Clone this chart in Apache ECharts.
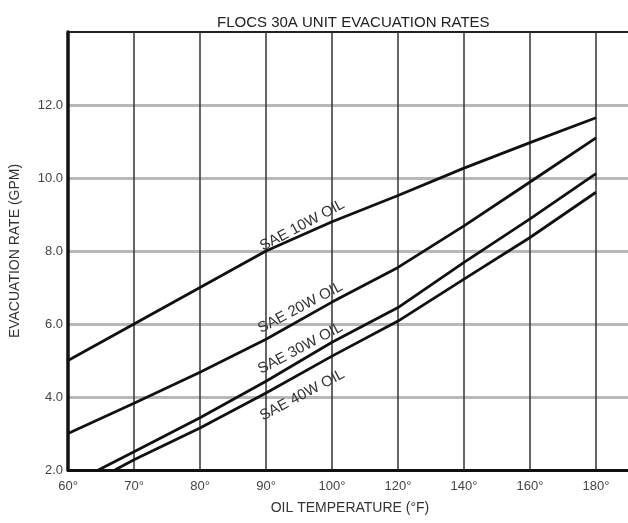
<!DOCTYPE html>
<html>
<head>
<meta charset="utf-8">
<script src="https://cdn.jsdelivr.net/npm/echarts@6/dist/echarts.min.js"></script>
<style>
  html, body { margin: 0; padding: 0; background: #fff; }
  #chart { width: 628px; height: 523px; }
</style>
</head>
<body>
<div id="chart"></div>
<script>
// tick positions on the x axis are evenly spaced, but the step changes at 100°
var xTicks = [60, 70, 80, 90, 100, 120, 140, 160, 180];
var xTickLabels = ['60°', '70°', '80°', '90°', '100°', '120°', '140°', '160°', '180°'];

var temps10 = [60, 70, 80, 90, 100, 120, 140, 160, 180];
var sae10 = [5.0, 6.0, 7.0, 8.0, 8.8, 9.52, 10.27, 10.97, 11.65];
var temps20 = [60, 70, 80, 90, 100, 120, 140, 160, 180];
var sae20 = [3.0, 3.83, 4.68, 5.58, 6.6, 7.55, 8.69, 9.89, 11.1];
var temps30 = [64.6, 70, 80, 90, 100, 120, 140, 160, 180];
var sae30 = [2.0, 2.5, 3.43, 4.43, 5.5, 6.45, 7.69, 8.88, 10.12];
var temps40 = [67.1, 70, 80, 90, 100, 120, 140, 160, 180];
var sae40 = [2.0, 2.28, 3.15, 4.11, 5.12, 6.08, 7.23, 8.37, 9.61];

// label spots [temperature, rate]
var lineNames = ['SAE 10W OIL', 'SAE 20W OIL', 'SAE 30W OIL', 'SAE 40W OIL'];
var labelSpots = [[95.5, 8.7], [95.2, 6.45], [95.2, 5.33], [95.5, 4.05]];

function idx(t) {
  return t <= 100 ? (t - 60) / 10 : 4 + (t - 100) / 20;
}
function pts(ts, vs) {
  return ts.map(function (t, i) { return [idx(t), vs[i]]; });
}

var font = '"Liberation Sans", Arial, sans-serif';
var myChart = echarts.init(document.getElementById('chart'));

function mkSeries(name, ts, vs, spot) {
  return {
    name: name,
    type: 'line',
    data: pts(ts, vs),
    symbol: 'none',
    lineStyle: { color: '#111', width: 2.8 },
    silent: true,
    markPoint: {
      symbol: 'circle',
      symbolSize: 1,
      itemStyle: { color: 'rgba(0,0,0,0)' },
      label: {
        show: true,
        position: 'inside',
        rotate: 28,
        color: '#333',
        fontFamily: font,
        fontSize: 15,
        formatter: name
      },
      data: [{ coord: [idx(spot[0]), spot[1]] }]
    }
  };
}

var option = {
  animation: false,
  backgroundColor: '#fff',
  title: {
    text: 'FLOCS 30A UNIT EVACUATION RATES',
    left: 212,
    top: 10,
    textStyle: { fontFamily: font, fontSize: 15, fontWeight: 'normal', color: '#222' }
  },
  grid: {
    left: 68, top: 32, right: -4, bottom: 53,
    outerBoundsMode: 'none',
    show: true, borderColor: '#222', borderWidth: 2
  },
  xAxis: {
    type: 'value',
    min: 0,
    max: 8.545,
    interval: 1,
    name: 'OIL TEMPERATURE (°F)',
    nameLocation: 'middle',
    nameGap: 31,
    nameTextStyle: { fontFamily: font, fontSize: 14, color: '#333' },
    axisLine: { onZero: false, lineStyle: { color: '#111', width: 3 } },
    axisTick: { show: false },
    axisLabel: {
      fontFamily: font, fontSize: 13, color: '#444', margin: 10,
      formatter: function (v) {
        return Number.isInteger(v) && xTickLabels[v] ? xTickLabels[v] : '';
      }
    },
    splitLine: { show: true, showMaxLine: false, lineStyle: { color: '#333', width: 1.5 } }
  },
  yAxis: {
    type: 'value',
    min: 2,
    max: 14,
    interval: 2,
    name: 'EVACUATION RATE (GPM)',
    nameLocation: 'middle',
    nameGap: 46,
    nameTextStyle: { fontFamily: font, fontSize: 14, color: '#333' },
    axisLine: { show: true, lineStyle: { color: '#111', width: 3.5 } },
    axisTick: { show: false },
    axisLabel: {
      fontFamily: font, fontSize: 13, color: '#444', margin: 5,
      formatter: function (v) { return v >= 14 ? '' : v.toFixed(1); }
    },
    splitLine: { show: true, showMaxLine: false, lineStyle: { color: '#b8b8b8', width: 3 } }
  },
  series: [
    mkSeries(lineNames[0], temps10, sae10, labelSpots[0]),
    mkSeries(lineNames[1], temps20, sae20, labelSpots[1]),
    mkSeries(lineNames[2], temps30, sae30, labelSpots[2]),
    mkSeries(lineNames[3], temps40, sae40, labelSpots[3])
  ]
};

myChart.setOption(option);
</script>
</body>
</html>
